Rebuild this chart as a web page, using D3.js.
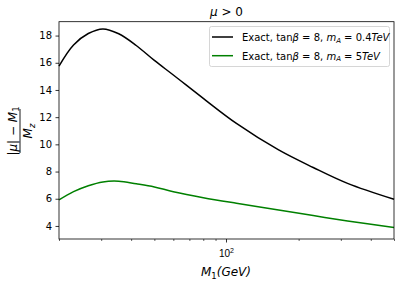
<!DOCTYPE html>
<html>
<head>
<meta charset="utf-8">
<script src="https://cdn.jsdelivr.net/npm/d3@7"></script>
<style>
  body { margin: 0; background: #fff; }
  svg { display: block; font-family: "DejaVu Sans", sans-serif; }
</style>
</head>
<body>
<svg id="chart" width="401" height="282"></svg>
<script>
// M1 in GeV (log axis)
const m1 = [20, 23, 26.5, 30.5, 35.5, 42, 50, 60, 80, 110, 165, 230, 320, 500];
// (|mu| - M1) / Mz for each curve
const lowMA = [15.76, 17.31, 18.15, 18.49, 18.13, 17.27, 16.17, 15.10, 13.38, 11.54, 9.59, 8.30, 7.13, 5.96];
const highMA = [5.91, 6.52, 6.96, 7.24, 7.29, 7.10, 6.87, 6.52, 6.08, 5.67, 5.18, 4.76, 4.37, 3.88];
const yTicks = [4, 6, 8, 10, 12, 14, 16, 18];
const xMinor = [20, 30, 40, 50, 60, 70, 80, 90, 200, 300, 400, 500];

const svg = d3.select('#chart');
const margin = { top: 21.7, right: 7, bottom: 43, left: 59 };
const W = 401, H = 282;

const x = d3.scaleLog().domain([20, 500]).range([margin.left, W - margin.right]);
const y = d3.scaleLinear().domain([3.04, 19.02]).range([H - margin.bottom, margin.top]);

// curves
const line = d3.line()
  .x((d, i) => x(m1[i]))
  .y(d => y(d))
  .curve(d3.curveCatmullRom.alpha(0.5));

const series = [
  { values: lowMA, color: '#000000', ma: '0.4' },
  { values: highMA, color: '#008000', ma: '5' }
];

svg.append('g').selectAll('path')
  .data(series)
  .join('path')
  .attr('d', d => line(d.values))
  .attr('fill', 'none')
  .attr('stroke', d => d.color)
  .attr('stroke-width', 1.5);

// y axis
const yAxis = svg.append('g')
  .attr('transform', `translate(${margin.left},0)`)
  .call(d3.axisLeft(y).tickValues(yTicks).tickSize(3.5).tickPadding(3.5));
yAxis.select('.domain').remove();
yAxis.selectAll('text').attr('font-size', 10).attr('fill', '#000').attr('font-family', 'DejaVu Sans');
yAxis.selectAll('line').attr('stroke', '#000').attr('stroke-width', 0.8);

// x axis: minor ticks + the 10^2 major
const xAxis = svg.append('g')
  .attr('transform', `translate(0,${H - margin.bottom})`);
xAxis.call(d3.axisBottom(x).tickValues(xMinor).tickSize(2).tickFormat(''));
xAxis.select('.domain').remove();
xAxis.selectAll('line').attr('stroke', '#000').attr('stroke-width', 0.6);
const major = xAxis.append('g').attr('transform', `translate(${x(100)},0)`);
major.append('line').attr('y2', 3.5).attr('stroke', '#000').attr('stroke-width', 0.8);
const majorText = major.append('text')
  .attr('y', 18).attr('text-anchor', 'middle').attr('font-size', 10).attr('fill', '#000');
majorText.append('tspan').text('10');
majorText.append('tspan').attr('font-size', 7).attr('dy', -4).text('2');

// frame
svg.append('rect')
  .attr('x', margin.left).attr('y', margin.top)
  .attr('width', W - margin.left - margin.right)
  .attr('height', H - margin.top - margin.bottom)
  .attr('fill', 'none').attr('stroke', '#000').attr('stroke-width', 0.8);

// title
const title = svg.append('text')
  .attr('x', (margin.left + W - margin.right) / 2).attr('y', 16)
  .attr('text-anchor', 'middle').attr('font-size', 12);
title.append('tspan').attr('font-style', 'italic').text('μ');
title.append('tspan').text(' > 0');

// x label
const xl = svg.append('text')
  .attr('x', 226).attr('y', 276)
  .attr('text-anchor', 'middle').attr('font-size', 12);
xl.append('tspan').attr('font-style', 'italic').text('M');
xl.append('tspan').attr('font-size', 8.5).attr('dy', 2.5).text('1');
xl.append('tspan').attr('dy', -2.5).attr('font-style', 'italic').text('(GeV)');

// y label as a fraction
const yl = svg.append('g').attr('transform', 'translate(20,131) rotate(-90)');
yl.append('line').attr('x1', -22).attr('x2', 22).attr('stroke', '#000').attr('stroke-width', 0.9);
const num = yl.append('text').attr('y', -3.5).attr('text-anchor', 'middle').attr('font-size', 12);
num.append('tspan').text('|');
num.append('tspan').attr('font-style', 'italic').text('μ');
num.append('tspan').text('| − ');
num.append('tspan').attr('font-style', 'italic').text('M');
num.append('tspan').attr('font-size', 8.5).attr('dy', 2.5).text('1');
const den = yl.append('text').attr('y', 12).attr('text-anchor', 'middle').attr('font-size', 12);
den.append('tspan').attr('font-style', 'italic').text('M');
den.append('tspan').attr('font-style', 'italic').attr('font-size', 8.5).attr('dy', 2.5).text('z');

// legend
const legend = svg.append('g');
legend.append('rect')
  .attr('x', 209.5).attr('y', 26.5).attr('width', 180).attr('height', 40)
  .attr('rx', 2).attr('fill', '#fff').attr('fill-opacity', 0.8)
  .attr('stroke', '#cccccc').attr('stroke-width', 0.8);
const items = legend.selectAll('g.item')
  .data(series)
  .join('g')
  .attr('class', 'item')
  .attr('transform', (d, i) => `translate(0,${37 + i * 18.7})`);
items.append('line')
  .attr('x1', 212).attr('x2', 233)
  .attr('stroke', d => d.color).attr('stroke-width', 1.5);
const lt = items.append('text')
  .attr('x', 242).attr('y', 3.8).attr('font-size', 10);
lt.append('tspan').text('Exact, tan');
lt.append('tspan').attr('font-style', 'italic').text('β');
lt.append('tspan').text(' = 8, ');
lt.append('tspan').attr('font-style', 'italic').text('m');
lt.append('tspan').attr('font-style', 'italic').attr('font-size', 7).attr('dy', 1.8).text('A');
lt.append('tspan').attr('dy', -1.8).text(d => ' = ' + d.ma);
lt.append('tspan').attr('font-style', 'italic').text('TeV');
</script>
</body>
</html>
